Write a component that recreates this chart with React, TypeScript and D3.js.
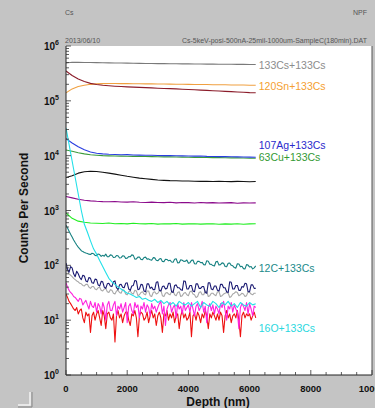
import React from "react";
import { scaleLinear, scaleLog, line, range } from "d3";

// depth grids (nm)
const depthSmooth = [0, 200, 400, 600, 800, 1000, 1200, 1400, 1600, 1800, 2000, 2200, 2400, 2600, 2800, 3000,
  3200, 3400, 3600, 3800, 4000, 4200, 4400, 4600, 4800, 5000, 5200, 5400, 5600, 5800, 6000, 6200];
const depthNoisy = [0, 100, 200, 300, 400, 500, 600, 700, 800, 900, 1000, 1100, 1200, 1300, 1400, 1500, 1600,
  1700, 1800, 1900, 2000, 2100, 2200, 2300, 2400, 2500, 2600, 2700, 2800, 2900, 3000, 3100, 3200, 3300, 3400,
  3500, 3600, 3700, 3800, 3900, 4000, 4100, 4200, 4300, 4400, 4500, 4600, 4700, 4800, 4900, 5000, 5100, 5200,
  5300, 5400, 5500, 5600, 5700, 5800, 5900, 6000, 6100, 6200];
const depthFine = [0, 50, 100, 150, 200, 250, 300, 350, 400, 450, 500, 550, 600, 650, 700, 750, 800, 850, 900,
  950, 1000, 1050, 1100, 1150, 1200, 1250, 1300, 1350, 1400, 1450, 1500, 1550, 1600, 1650, 1700, 1750, 1800,
  1850, 1900, 1950, 2000, 2050, 2100, 2150, 2200, 2250, 2300, 2350, 2400, 2450, 2500, 2550, 2600, 2650, 2700,
  2750, 2800, 2850, 2900, 2950, 3000, 3050, 3100, 3150, 3200, 3250, 3300, 3350, 3400, 3450, 3500, 3550, 3600,
  3650, 3700, 3750, 3800, 3850, 3900, 3950, 4000, 4050, 4100, 4150, 4200, 4250, 4300, 4350, 4400, 4450, 4500,
  4550, 4600, 4650, 4700, 4750, 4800, 4850, 4900, 4950, 5000, 5050, 5100, 5150, 5200, 5250, 5300, 5350, 5400,
  5450, 5500, 5550, 5600, 5650, 5700, 5750, 5800, 5850, 5900, 5950, 6000, 6050, 6100, 6150, 6200];

const cs133 = [490000, 505000, 503000, 501000, 499000, 497000, 495000, 493000, 491000, 489000, 487000, 485000,
  483000, 481000, 480000, 478000, 477000, 476000, 474000, 473000, 472000, 470000, 469000, 468000, 467000, 466000,
  465000, 464000, 463000, 462000, 461000, 460000];
const sn120 = [140000, 165000, 182000, 193000, 200000, 204000, 206000, 207000, 207000, 206000, 206000, 205000,
  205000, 204000, 204000, 203000, 203000, 202000, 201000, 201000, 200000, 199000, 199000, 198000, 197000, 197000,
  196000, 195000, 195000, 194000, 193000, 193000];
const brownSeries = [350000, 290000, 250000, 225000, 208000, 198000, 192000, 188000, 185000, 182000, 180000, 178000,
  176000, 174000, 172000, 170000, 168000, 167000, 165000, 163000, 161000, 159000, 157000, 155000, 153000, 151000,
  149000, 147000, 145000, 143000, 141000, 140000];
const ag107 = [20500, 17000, 14500, 12800, 11700, 11100, 10800, 10600, 10500, 10400, 10450, 10300, 10250, 10200,
  10150, 10100, 10000, 10050, 9950, 9900, 9850, 9800, 9850, 9700, 9650, 9600, 9650, 9550, 9500, 9450, 9400, 9350];
const cu63 = [12700, 12000, 11300, 10800, 10400, 10200, 10000, 9900, 9850, 9800, 9750, 9700, 9700, 9650, 9600,
  9550, 9500, 9500, 9450, 9400, 9350, 9300, 9300, 9250, 9200, 9200, 9150, 9100, 9100, 9050, 9000, 9000];
const blackSeries = [4000, 4300, 4800, 5100, 5200, 5150, 5000, 4800, 4600, 4400, 4200, 4050, 3900, 3800, 3700,
  3600, 3550, 3500, 3480, 3450, 3450, 3420, 3400, 3420, 3380, 3400, 3380, 3360, 3400, 3380, 3350, 3380];
const purpleSeries = [1800, 1700, 1600, 1540, 1500, 1470, 1450, 1440, 1460, 1430, 1420, 1440, 1410, 1400, 1420,
  1400, 1390, 1410, 1380, 1400, 1390, 1370, 1400, 1380, 1390, 1370, 1380, 1390, 1360, 1380, 1370, 1380];
const limeSeries = [900, 720, 640, 610, 590, 585, 580, 590, 575, 580, 570, 585, 575, 570, 580, 565, 575, 570, 580,
  565, 570, 575, 565, 570, 575, 560, 570, 565, 575, 560, 570, 575];

const o16 = [32000, 16000, 8000, 4000, 2000, 1000, 560, 400, 280, 200,
  160, 122, 95, 74, 58, 50, 45, 40, 37, 34,
  31, 30, 28, 26, 27, 24, 25, 23, 22, 24,
  21, 23, 20, 22, 19, 21, 18, 22, 20, 19,
  21, 18, 20, 22, 17, 21, 19, 18, 22, 20,
  17, 21, 19, 22, 18, 20, 17, 21, 19, 18,
  21, 19, 20];

const c12 = [540, 480, 420, 370, 330, 290, 260, 235, 215, 200,
  185, 178, 172, 168, 165, 160, 158, 166, 163, 152,
  150, 161, 157, 146, 152, 147, 160, 143, 144, 155,
  153, 139, 140, 151, 150, 136, 138, 149, 148, 134,
  135, 144, 143, 155, 152, 130, 131, 141, 142, 128,
  127, 139, 141, 130, 131, 126, 124, 138, 137, 124,
  121, 130, 133, 118, 117, 129, 128, 121, 124, 115,
  114, 129, 132, 111, 112, 126, 124, 118, 119, 125,
  109, 112, 123, 125, 107, 106, 119, 118, 112, 113,
  103, 102, 121, 119, 105, 104, 99, 97, 116, 118,
  101, 103, 111, 109, 95, 94, 109, 110, 100, 98,
  91, 89, 107, 106, 94, 96, 87, 86, 103, 101,
  93, 95, 86, 90, 98];
const navySeries = [110, 85, 75, 95, 90, 70, 62, 78, 70, 60,
  55, 66, 64, 52, 50, 60, 58, 48, 47, 56,
  55, 44, 42, 51, 50, 40, 38, 46, 47, 42,
  41, 50, 52, 39, 36, 44, 45, 40, 39, 47,
  48, 37, 35, 42, 43, 53, 52, 36, 37, 45,
  44, 34, 33, 46, 46, 38, 40, 36, 36, 49,
  50, 35, 34, 41, 42, 37, 38, 47, 47, 33,
  32, 43, 44, 39, 39, 36, 35, 52, 51, 37,
  37, 43, 43, 34, 33, 46, 46, 38, 38, 41,
  41, 32, 31, 48, 48, 37, 36, 42, 42, 35,
  34, 45, 45, 39, 39, 33, 32, 50, 49, 37,
  37, 43, 43, 35, 35, 41, 40, 47, 46, 33,
  33, 44, 44, 38, 38];
const graySeries = [95, 80, 70, 66, 62, 58, 55, 52, 50, 47,
  46, 43, 42, 45, 45, 40, 38, 41, 41, 37,
  36, 39, 40, 35, 34, 37, 38, 33, 32, 36,
  35, 31, 30, 34, 35, 32, 31, 36, 35, 30,
  29, 33, 34, 31, 30, 35, 34, 28, 29, 32,
  33, 30, 29, 34, 34, 28, 27, 32, 33, 30,
  31, 34, 35, 28, 27, 31, 32, 30, 29, 33,
  34, 29, 28, 32, 33, 27, 28, 31, 32, 29,
  28, 33, 34, 30, 29, 26, 27, 32, 33, 29,
  29, 34, 33, 27, 28, 31, 31, 29, 28, 33,
  33, 27, 28, 30, 31, 32, 31, 26, 27, 30,
  31, 33, 32, 28, 29, 31, 30, 27, 28, 33,
  32, 30, 29, 31, 31];
const magentaSeries = [48, 40, 35, 32, 30, 27, 26, 24, 22, 25,
  24, 19, 21, 23, 19, 16, 22, 18, 17, 21,
  14, 20, 18, 13, 21, 17, 10, 19, 22, 15,
  15, 19, 22, 12, 18, 16, 20, 14, 17, 21,
  9, 18, 20, 15, 13, 21, 17, 19, 11, 18,
  16, 21, 14, 19, 17, 12, 20, 16, 18, 14,
  17, 20, 22, 13, 18, 8, 16, 19, 21, 14,
  17, 19, 11, 20, 16, 18, 13, 21, 15, 17,
  19, 14, 21, 16, 12, 18, 20, 15, 17, 22,
  14, 18, 9, 17, 20, 15, 19, 13, 18, 16,
  13, 20, 17, 22, 15, 10, 18, 16, 21, 14,
  19, 16, 14, 7, 17, 20, 18, 15, 21, 13,
  20, 16, 12, 18, 17];
const redSeries = [30, 26, 22, 20, 18, 16, 15, 17, 13, 15,
  16, 11, 9, 14, 12, 13, 6, 12, 14, 10,
  13, 15, 11, 8, 15, 12, 7, 13, 14, 11,
  10, 13, 4, 12, 15, 11, 13, 9, 12, 14,
  14, 10, 8, 13, 12, 15, 11, 5, 12, 14,
  13, 10, 11, 14, 9, 12, 15, 11, 13, 8,
  12, 14, 11, 6, 13, 12, 15, 10, 13, 11,
  14, 9, 12, 13, 7, 12, 15, 11, 13, 10,
  11, 14, 5, 12, 13, 10, 14, 12, 9, 13,
  11, 15, 12, 7, 13, 11, 14, 12, 10, 13,
  10, 14, 12, 6, 12, 15, 11, 13, 9, 12,
  13, 11, 15, 10, 5, 12, 14, 11, 13, 12,
  13, 10, 12, 14, 11];

// draw order, bottom first
const series = [
  { depth: depthSmooth, values: cs133, color: "#7a7a7a" },
  { depth: depthSmooth, values: sn120, color: "#f0a040" },
  { depth: depthSmooth, values: brownSeries, color: "#8b1c2a" },
  { depth: depthSmooth, values: cu63, color: "#3a9a3a" },
  { depth: depthSmooth, values: ag107, color: "#2a3ee0" },
  { depth: depthSmooth, values: blackSeries, color: "#111111" },
  { depth: depthSmooth, values: purpleSeries, color: "#8b0a8b" },
  { depth: depthSmooth, values: limeSeries, color: "#22ee22" },
  { depth: depthFine, values: c12, color: "#148080" },
  { depth: depthFine, values: redSeries, color: "#ee1111" },
  { depth: depthFine, values: magentaSeries, color: "#ff22dd" },
  { depth: depthFine, values: graySeries, color: "#a8a8a8" },
  { depth: depthFine, values: navySeries, color: "#1a1a72" },
  { depth: depthNoisy, values: o16, color: "#22e0e8" },
];

const labelNames = ["133Cs+133Cs", "120Sn+133Cs", "107Ag+133Cs", "63Cu+133Cs", "12C+133Cs", "16O+133Cs"];
const labelValues = [450000, 187000, 15300, 9300, 89, 7.2];
const labelColors = ["#8c8c8c", "#f5a030", "#2a2acc", "#349a34", "#1a8a8a", "#2ad8e0"];

const yDecades = [0, 1, 2, 3, 4, 5, 6];
const xTickLabels = [0, 2000, 4000, 6000, 8000, 10000];

const FONT = "'Liberation Sans', Arial, sans-serif";

export default function App() {
  const x = scaleLinear().domain([0, 10000]).range([66, 372]);
  const y = scaleLog().domain([1, 1e6]).range([375, 46]);
  const path = line<[number, number]>().x(d => x(d[0])).y(d => y(d[1]));
  const minorY = y.ticks();
  const minorX = range(0, 10001, 500);

  return (
    <svg width={375} height={408} style={{ position: "absolute", left: 0, top: 0, display: "block" }}
      fontFamily={FONT}>
      <defs>
        <clipPath id="plotClip">
          <rect x={66} y={46} width={306} height={329} />
        </clipPath>
      </defs>
      <rect x={0} y={0} width={375} height={408} fill="#c4c4c4" />
      <rect x={66} y={46} width={306} height={329} fill="#ffffff" />

      <text x={65} y={15} fontSize={7} fill="#555">Cs</text>
      <text x={367} y={15} fontSize={7} fill="#555" textAnchor="end">NPF</text>
      <text x={65} y={43} fontSize={7} fill="#555">2013/06/10</text>
      <text x={367} y={43} fontSize={7} fill="#555" textAnchor="end">Cs-5keV-posi-500nA-25mil-1000um-SampleC(180min).DAT</text>

      <g clipPath="url(#plotClip)">
        {series.map((s, i) => (
          <path key={i} d={path(s.values.map((v, j) => [s.depth[j], v] as [number, number])) || ""}
            fill="none" stroke={s.color} strokeWidth={1.1} strokeLinejoin="round" />
        ))}
      </g>

      {labelNames.map((n, i) => (
        <text key={n} x={x(6300)} y={y(labelValues[i])} dy="0.35em" fontSize={10.5} fill={labelColors[i]}>{n}</text>
      ))}

      {/* axes */}
      <line x1={66} x2={66} y1={46} y2={375} stroke="#222" />
      <line x1={66} x2={372} y1={375} y2={375} stroke="#222" />
      <line x1={372} x2={372} y1={46} y2={375} stroke="#555" />
      {minorY.map((t, i) => {
        const major = Math.abs(Math.log10(t) - Math.round(Math.log10(t))) < 1e-6;
        return <line key={i} x1={66} x2={66 + (major ? 5 : 3)} y1={y(t)} y2={y(t)} stroke="#333" strokeWidth={0.8} />;
      })}
      {minorX.map(t => (
        <line key={t} x1={x(t)} x2={x(t)} y1={375} y2={375 - (t % 2000 === 0 ? 5 : 3)} stroke="#333" strokeWidth={0.8} />
      ))}
      {yDecades.map(d => (
        <text key={d} x={59} y={y(Math.pow(10, d)) + 4} fontSize={10} fontWeight="bold" fill="#111" textAnchor="end">
          10<tspan dy={-5} fontSize={7}>{d}</tspan>
        </text>
      ))}
      {xTickLabels.map(t => (
        <text key={t} x={x(t)} y={392} fontSize={9.5} fontWeight="bold" fill="#111" textAnchor="middle">{t}</text>
      ))}
      <text x={218} y={406} fontSize={12} fontWeight="bold" fill="#111" textAnchor="middle">Depth (nm)</text>
      <text transform="translate(28,208) rotate(-90)" fontSize={12} fontWeight="bold" fill="#111" textAnchor="middle">Counts Per Second</text>

      <polyline points="18,405 30,405 30,392" fill="none" stroke="#f4f4f4" strokeWidth={1.5} />
      <polyline points="18,407 32,407 32,392" fill="none" stroke="#888" strokeWidth={1} />
    </svg>
  );
}
